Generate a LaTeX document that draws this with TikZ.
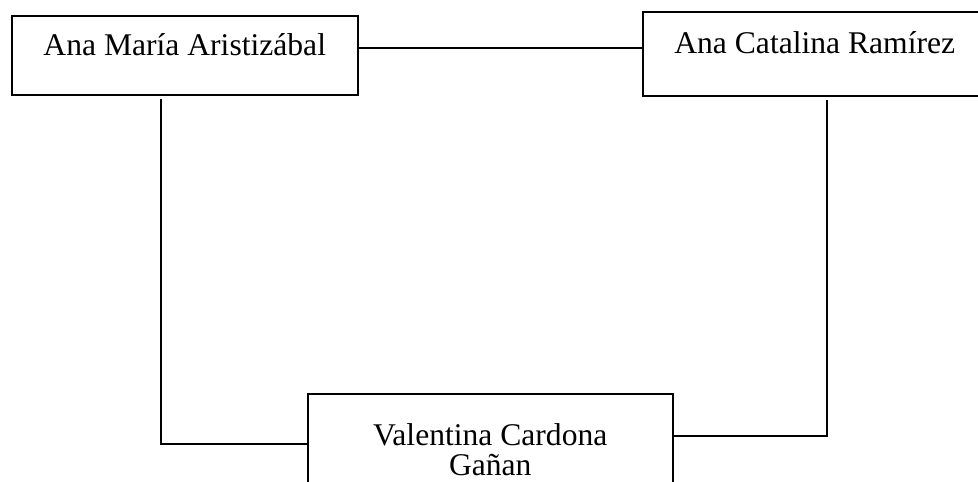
\documentclass[tikz,border=0pt]{standalone}
\usepackage{fontspec}
\setmainfont{Liberation Serif}
\usepackage{tikz}
\usetikzlibrary{positioning}
\tikzset{
    %Define style for boxes
    persona/.style={
           rectangle,
           draw=black, line width=1.5pt,
           inner xsep=0pt, inner ysep=0pt,
           font=\fontsize{31.6}{33}\selectfont,
           anchor=north west,
           text centered},
    % Define line style
    enlace/.style={
           line width=1.3pt,
           line cap=rect}
}
\begin{document}
\begin{tikzpicture}[x=1pt,y=-1pt]
\useasboundingbox (0,0) rectangle (978,482);
\clip (0,0) rectangle (978,482);
\node[persona, minimum width=344pt, text height=42pt, text depth=42pt] (cata) at (642,11) {Ana Catalina Ramírez};
\node[persona, minimum width=346pt, text height=40pt, text depth=39pt] (ana) at (11,15) {Ana María Aristizábal};
\node[persona, minimum width=365pt, align=center, text height=82pt, text depth=48pt,
      font=\fontsize{31.6}{30}\selectfont] (vale) at (307,393) {Valentina Cardona\\Gañan};
\coordinate (arriba) at (500,48);
\coordinate (izq) at (161,444);
\coordinate (der) at (827,436);
\draw[enlace] (ana.east |- arriba) -- (cata.west |- arriba);
\draw[enlace] (ana.south -| izq) ++(0,4) -- (izq) -- (vale.west |- izq);
\draw[enlace] (cata.south -| der) ++(0,4) -- (der) -- (vale.east |- der);
\end{tikzpicture}
\end{document}
